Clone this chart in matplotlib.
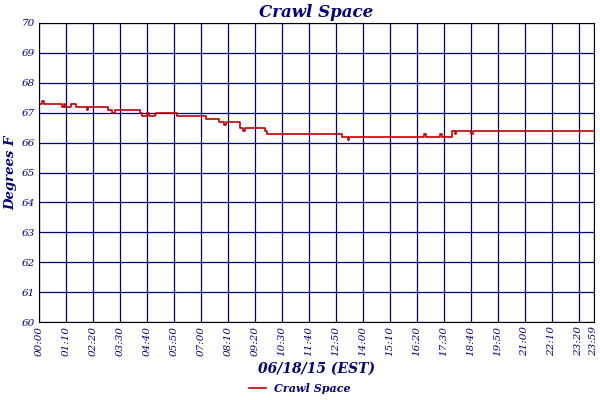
import matplotlib.pyplot as plt
import numpy as np

# minutes since midnight where the reading changes, and the new value
times = [0, 8, 12, 60, 64, 68, 84, 95, 125, 128, 179, 190, 196, 205, 261, 268, 280,
         285, 300, 303, 358, 363, 433, 466, 480, 485, 522, 530, 535, 586, 590, 663,
         786, 800, 805, 998, 1003, 1040, 1045, 1070, 1078, 1082, 1120, 1125, 1439]
temps = [67.3, 67.4, 67.3, 67.2, 67.3, 67.2, 67.3, 67.2, 67.1, 67.2, 67.1, 67.0,
         67.1, 67.1, 67.0, 66.9, 67.0, 66.9, 66.95, 67.0, 66.9, 66.9, 66.8, 66.7,
         66.6, 66.7, 66.5, 66.4, 66.5, 66.4, 66.3, 66.3, 66.2, 66.1, 66.2, 66.3,
         66.2, 66.3, 66.2, 66.4, 66.3, 66.4, 66.3, 66.4, 66.4]

tick_minutes = list(range(0, 1401, 70)) + [1439]
tick_labels = [f"{m // 60:02d}:{m % 60:02d}" for m in tick_minutes]

navy = "#000080"
font = dict(family="DejaVu Serif", style="italic")

fig = plt.figure(figsize=(6, 4), dpi=100)
ax = fig.add_axes([0.065, 0.195, 0.925, 0.7475])

ax.step(times, temps, where="post", color="#c00000", lw=1.2, label="Crawl Space")

ax.set_xlim(0, 1439)
ax.set_ylim(60, 70)
ax.set_yticks(range(60, 71))
ax.set_xticks(tick_minutes)
ax.set_xticklabels(tick_labels, rotation=90, color=navy, fontsize=7.5, **font)
ax.set_yticklabels([str(v) for v in range(60, 71)], color=navy, fontsize=7.5, **font)
ax.tick_params(length=0, pad=3)
ax.grid(True, color=navy, lw=0.9)
ax.set_axisbelow(True)
for s in ax.spines.values():
    s.set_color("black")
    s.set_linewidth(0.8)

ax.set_title("Crawl Space", color=navy, fontsize=12, weight="bold", pad=4, **font)
ax.set_ylabel("Degrees F", color=navy, fontsize=9.5, weight="bold", labelpad=3, **font)
ax.set_xlabel("06/18/15 (EST)", color=navy, fontsize=10, weight="bold", labelpad=4, **font)

fig.legend(loc="lower center", bbox_to_anchor=(0.5, -0.01), frameon=False,
           prop=dict(family="DejaVu Serif", style="italic", weight="bold", size=8),
           labelcolor=navy, handlelength=1.5)

fig.savefig("out.png", dpi=100)
